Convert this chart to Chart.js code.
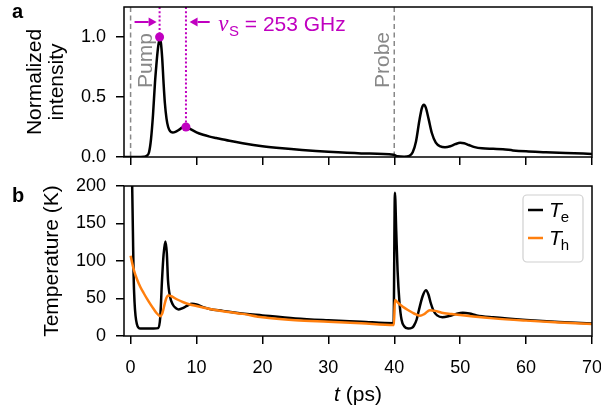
<!DOCTYPE html>
<html><head><meta charset="utf-8">
<script src="https://cdn.jsdelivr.net/npm/chart.js@4"></script>
<style>
html,body{margin:0;padding:0;background:#fff;}
#wrap{position:relative;width:601px;height:410px;overflow:hidden;}
canvas{position:absolute;left:0;}
</style>
</head><body>
<div id="wrap">
<canvas id="cTop" width="601" height="175" style="top:0px"></canvas>
<canvas id="cBot" width="601" height="235" style="top:175px"></canvas>
</div>
<script>
// ---------- data ----------
const xTicks = [0, 10, 20, 30, 40, 50, 60, 70];
const xTickLabels = ['0', '10', '20', '30', '40', '50', '60', '70'];
const yTicksTop = [0, 0.5, 1.0];
const yTickLabelsTop = ['0.0', '0.5', '1.0'];
const yTicksBot = [0, 50, 100, 150, 200];
const yTickLabelsBot = ['0', '50', '100', '150', '200'];

// normalized intensity (panel a)
const tI = [-1, 0, 1, 2, 2.4, 2.8, 3.1, 3.4, 3.7, 3.9, 4.1, 4.3, 4.45, 4.6, 4.8, 5.0, 5.2, 5.45, 5.7, 6.0, 6.4, 6.8, 7.3, 7.8, 8.4, 9.0, 10.0, 11.0, 12.0, 13.0, 15.0, 17.0, 20.0, 23.0, 26.0, 30.0, 35.0, 39.9, 40.5, 41.5, 42.3, 42.8, 43.3, 43.8, 44.2, 44.5, 44.8, 45.2, 45.7, 46.3, 47.0, 47.7, 48.5, 49.3, 50.0, 50.6, 51.3, 52.2, 53.3, 55.0, 56.5, 58.0, 60.0, 63.0, 66.0, 70.0];
const vI = [0, 0, 0, 0.002, 0.008, 0.04, 0.15, 0.35, 0.62, 0.76, 0.88, 0.96, 0.98, 0.95, 0.82, 0.62, 0.45, 0.32, 0.25, 0.215, 0.205, 0.21, 0.225, 0.245, 0.255, 0.235, 0.205, 0.185, 0.17, 0.158, 0.135, 0.115, 0.09, 0.072, 0.058, 0.043, 0.03, 0.018, 0.006, 0.003, 0.01, 0.04, 0.13, 0.3, 0.41, 0.435, 0.41, 0.32, 0.2, 0.12, 0.088, 0.082, 0.09, 0.108, 0.118, 0.115, 0.1, 0.082, 0.072, 0.068, 0.065, 0.055, 0.047, 0.04, 0.033, 0.026];

// marked points (pump peak and second maximum)
const markT = [4.4, 8.4];
const markV = [1.0, 0.25];
const lineTimes = [0, 40];          // pump / probe dashed lines
const lineNames = ['Pump', 'Probe'];

// electron temperature T_e (panel b)
const tE = [0, 0.12, 0.25, 0.35, 0.46, 0.6, 0.75, 0.95, 1.2, 1.5, 2.5, 3.5, 4.2, 4.5, 4.77, 5.0, 5.27, 5.5, 5.67, 6.0, 6.4, 6.9, 7.3, 8.0, 8.7, 9.3, 10.0, 11.0, 12.0, 14.0, 16.0, 20.0, 25.0, 30.0, 35.0, 39.9, 40.1, 40.3, 40.5, 40.8, 41.1, 41.5, 42.1, 42.7, 43.0, 43.4, 43.7, 44.3, 44.8, 45.2, 45.5, 46.0, 46.5, 47.3, 48.3, 49.4, 50.4, 51.4, 52.5, 55.0, 60.0, 65.0, 70.0];
const vE = [320, 260, 195, 140, 80, 45, 27, 16, 11, 10, 10, 10, 10.5, 25, 75, 108, 126, 110, 75, 52, 42, 37, 35.5, 37.5, 41, 43, 42, 38.5, 36, 33.5, 31, 27.5, 23.5, 21, 19, 17, 191, 140, 88, 44, 22, 13, 10, 11, 14, 22, 33, 53, 61, 55, 45, 33, 27.5, 25, 26.5, 29.5, 31, 30, 27.5, 25, 21.5, 18.8, 16.5];

// hole temperature T_h (panel b)
const tH = [0, 0.5, 1.0, 1.5, 2.0, 2.5, 3.0, 3.5, 4.0, 4.5, 4.8, 5.1, 5.4, 5.7, 6.2, 7.0, 8.0, 9.0, 10.0, 11.0, 12.0, 14.0, 15.7, 17.0, 20.0, 25.0, 30.0, 35.0, 39.95, 40.1, 40.6, 41.3, 42.2, 43.0, 43.9, 44.6, 45.4, 46.2, 47.2, 48.7, 50.0, 52.0, 55.0, 60.0, 65.0, 70.0];
const vH = [107, 88, 75, 65, 57, 49.5, 42.5, 36, 30, 26.5, 30, 40, 50, 54, 53, 49, 45, 42, 40, 38, 36, 33, 31, 29.5, 25, 21, 19, 17, 14.7, 48, 44, 39, 34, 30, 27, 29.5, 34.5, 33.5, 31, 29.3, 28, 26, 23.5, 20.5, 18, 16];

// ---------- helpers ----------
const SANS = "'Liberation Sans', Arial, Helvetica, sans-serif";
const SERIF = "'Liberation Serif', 'DejaVu Serif', serif";
const MAG = '#c000c0';
const ORANGE = '#ff7f0e';
const pts = (xs, ys) => xs.map((x, i) => ({x: x, y: ys[i]}));

const framePlugin = {
  id: 'frame',
  afterDraw(c) {
    const a = c.chartArea, g = c.ctx;
    g.save(); g.strokeStyle = '#000'; g.lineWidth = 1.5;
    g.strokeRect(a.left, a.top, a.right - a.left, a.bottom - a.top);
    g.restore();
  }
};

function xScale(showLabels, h) {
  return {
    type: 'linear', min: -1, max: 70,
    afterBuildTicks: s => { s.ticks = xTicks.map(v => ({value: v})); },
    afterFit: s => { s.height = h; s.paddingLeft = 0; s.paddingRight = 0; },
    ticks: {display: showLabels, autoSkip: false, maxRotation: 0, padding: 13, color: '#000',
            font: {family: SANS, size: 18}, callback: (v, i) => xTickLabels[i]},
    grid: {drawOnChartArea: false, drawTicks: true, tickLength: 8, color: '#000', lineWidth: 1.5},
    border: {display: false}
  };
}
function yScale(min, max, ticks, labels, title, titlePad) {
  return {
    type: 'linear', min: min, max: max,
    afterBuildTicks: s => { s.ticks = ticks.map(v => ({value: v})); },
    afterFit: s => { s.width = 124; s.paddingTop = 0; s.paddingBottom = 0; },
    ticks: {autoSkip: false, padding: 10, color: '#000', font: {family: SANS, size: 18},
            callback: (v, i) => labels[i]},
    grid: {drawOnChartArea: false, drawTicks: true, tickLength: 8, color: '#000', lineWidth: 1.5},
    border: {display: false},
    title: {display: true, text: title, color: '#000', padding: {top: titlePad, bottom: 0},
            font: {family: SANS, size: 21, lineHeight: 1.05}}
  };
}

// ---------- panel a ----------
const annotA = {
  id: 'annotA',
  beforeDatasetsDraw(c) {
    const g = c.ctx, a = c.chartArea, xs = c.scales.x, ys = c.scales.y;
    g.save();
    // pump / probe dashed lines
    g.strokeStyle = '#888'; g.lineWidth = 1.5; g.setLineDash([5, 3.5]);
    lineTimes.forEach(t => {
      const px = xs.getPixelForValue(t);
      g.beginPath(); g.moveTo(px, a.top); g.lineTo(px, a.bottom); g.stroke();
    });
    // dotted magenta lines down to the markers
    g.strokeStyle = MAG; g.lineWidth = 2; g.setLineDash([2, 2.2]);
    markT.forEach((t, i) => {
      const px = xs.getPixelForValue(t);
      g.beginPath(); g.moveTo(px, a.top); g.lineTo(px, ys.getPixelForValue(markV[i])); g.stroke();
    });
    g.setLineDash([]);
    // rotated labels
    g.fillStyle = '#888'; g.font = '21px ' + SANS; g.textBaseline = 'alphabetic'; g.textAlign = 'left';
    const yb = ys.getPixelForValue(0.575);
    const offs = [21, -5];
    lineTimes.forEach((t, i) => {
      g.save();
      g.translate(xs.getPixelForValue(t) + offs[i], yb);
      g.rotate(-Math.PI / 2);
      g.fillText(lineNames[i], 0, 0);
      g.restore();
    });
    g.restore();
  },
  afterDraw(c) {
    const g = c.ctx, xs = c.scales.x, ys = c.scales.y;
    g.save();
    // arrows
    const ay = ys.getPixelForValue(1.125);
    function arrow(x0, x1) {
      g.strokeStyle = MAG; g.fillStyle = MAG; g.lineWidth = 2;
      const dir = Math.sign(x1 - x0), hl = 8, hw = 4.5;
      g.beginPath(); g.moveTo(x0, ay); g.lineTo(x1 - dir * hl, ay); g.stroke();
      g.beginPath(); g.moveTo(x1, ay); g.lineTo(x1 - dir * hl, ay - hw); g.lineTo(x1 - dir * hl, ay + hw); g.closePath(); g.fill();
    }
    arrow(xs.getPixelForValue(0.6), xs.getPixelForValue(3.95));
    arrow(xs.getPixelForValue(12.0), xs.getPixelForValue(8.95));
    // frequency label
    let x = xs.getPixelForValue(13.3);
    const by = ys.getPixelForValue(1.05);
    g.fillStyle = MAG; g.textBaseline = 'alphabetic'; g.textAlign = 'left';
    g.font = 'italic 23px ' + SERIF; g.fillText('ν', x, by); x += g.measureText('ν').width + 0.5;
    g.font = '15px ' + SANS; g.fillText('S', x, by + 5); x += g.measureText('S').width;
    g.font = '21px ' + SANS; g.fillText(' = 253 GHz', x, by);
    // panel letter
    g.fillStyle = '#000'; g.font = 'bold 20px ' + SANS;
    g.fillText('a', 12, 18);
    g.restore();
  }
};

new Chart(document.getElementById('cTop'), {
  type: 'line',
  data: {datasets: [
    {data: pts(markT, markV), showLine: false, pointRadius: 4.5, pointBackgroundColor: MAG,
     pointBorderColor: MAG, pointBorderWidth: 0, order: 0},
    {data: pts(tI, vI), borderColor: '#000', borderWidth: 2.5, pointRadius: 0,
     cubicInterpolationMode: 'monotone', fill: false, order: 1}
  ]},
  options: {
    responsive: false, animation: false, devicePixelRatio: 1,
    layout: {padding: {left: 0, right: 9, top: 7, bottom: 0}},
    plugins: {legend: {display: false}, tooltip: {enabled: false}},
    scales: {
      x: xScale(false, 18),
      y: yScale(0, 1.25, yTicksTop, yTickLabelsTop, ['Normalized', 'intensity'], 24)
    }
  },
  plugins: [framePlugin, annotA]
});

// ---------- panel b ----------
const annotB = {
  id: 'annotB',
  afterDraw(c) {
    const g = c.ctx, a = c.chartArea;
    g.save();
    // legend
    const L = 523, T = 20, W = 60, H = 67, r = 4;
    g.beginPath();
    g.moveTo(L + r, T); g.lineTo(L + W - r, T); g.arcTo(L + W, T, L + W, T + r, r);
    g.lineTo(L + W, T + H - r); g.arcTo(L + W, T + H, L + W - r, T + H, r);
    g.lineTo(L + r, T + H); g.arcTo(L, T + H, L, T + H - r, r);
    g.lineTo(L, T + r); g.arcTo(L, T, L + r, T, r); g.closePath();
    g.fillStyle = 'rgba(255,255,255,0.8)'; g.fill();
    g.strokeStyle = '#d0d0d0'; g.lineWidth = 1.2; g.stroke();
    const entries = [{c: '#000', s: 'e', y: 35}, {c: ORANGE, s: 'h', y: 63}];
    entries.forEach(e => {
      g.strokeStyle = e.c; g.lineWidth = 2.5;
      g.beginPath(); g.moveTo(528, e.y); g.lineTo(543, e.y); g.stroke();
      g.fillStyle = '#000'; g.textBaseline = 'alphabetic'; g.textAlign = 'left';
      g.font = 'italic 21px ' + SANS; g.fillText('T', 549, e.y + 7);
      const w = g.measureText('T').width;
      g.font = '15px ' + SANS; g.fillText(e.s, 549 + w - 1, e.y + 12);
    });
    // x axis title
    g.fillStyle = '#000';
    g.font = 'italic 21px ' + SANS; const w1 = g.measureText('t').width;
    g.font = '21px ' + SANS; const w2 = g.measureText(' (ps)').width;
    const cx = (a.left + a.right) / 2, x0 = cx - (w1 + w2) / 2, by = 226;
    g.font = 'italic 21px ' + SANS; g.fillText('t', x0, by);
    g.font = '21px ' + SANS; g.fillText(' (ps)', x0 + w1, by);
    // panel letter
    g.font = 'bold 20px ' + SANS; g.fillText('b', 12, 27);
    g.restore();
  }
};

new Chart(document.getElementById('cBot'), {
  type: 'line',
  data: {datasets: [
    {data: pts(tE, vE), borderColor: '#000', borderWidth: 2.5, pointRadius: 0,
     cubicInterpolationMode: 'monotone', fill: false, order: 2},
    {data: pts(tH, vH), borderColor: ORANGE, borderWidth: 2.5, pointRadius: 0,
     cubicInterpolationMode: 'monotone', fill: false, order: 1}
  ]},
  options: {
    responsive: false, animation: false, devicePixelRatio: 1,
    layout: {padding: {left: 0, right: 9, top: 11, bottom: 0}},
    plugins: {legend: {display: false}, tooltip: {enabled: false}},
    scales: {
      x: xScale(true, 74),
      y: yScale(0, 200, yTicksBot, yTickLabelsBot, 'Temperature (K)', 41)
    }
  },
  plugins: [framePlugin, annotB]
});
</script>
</body></html>
